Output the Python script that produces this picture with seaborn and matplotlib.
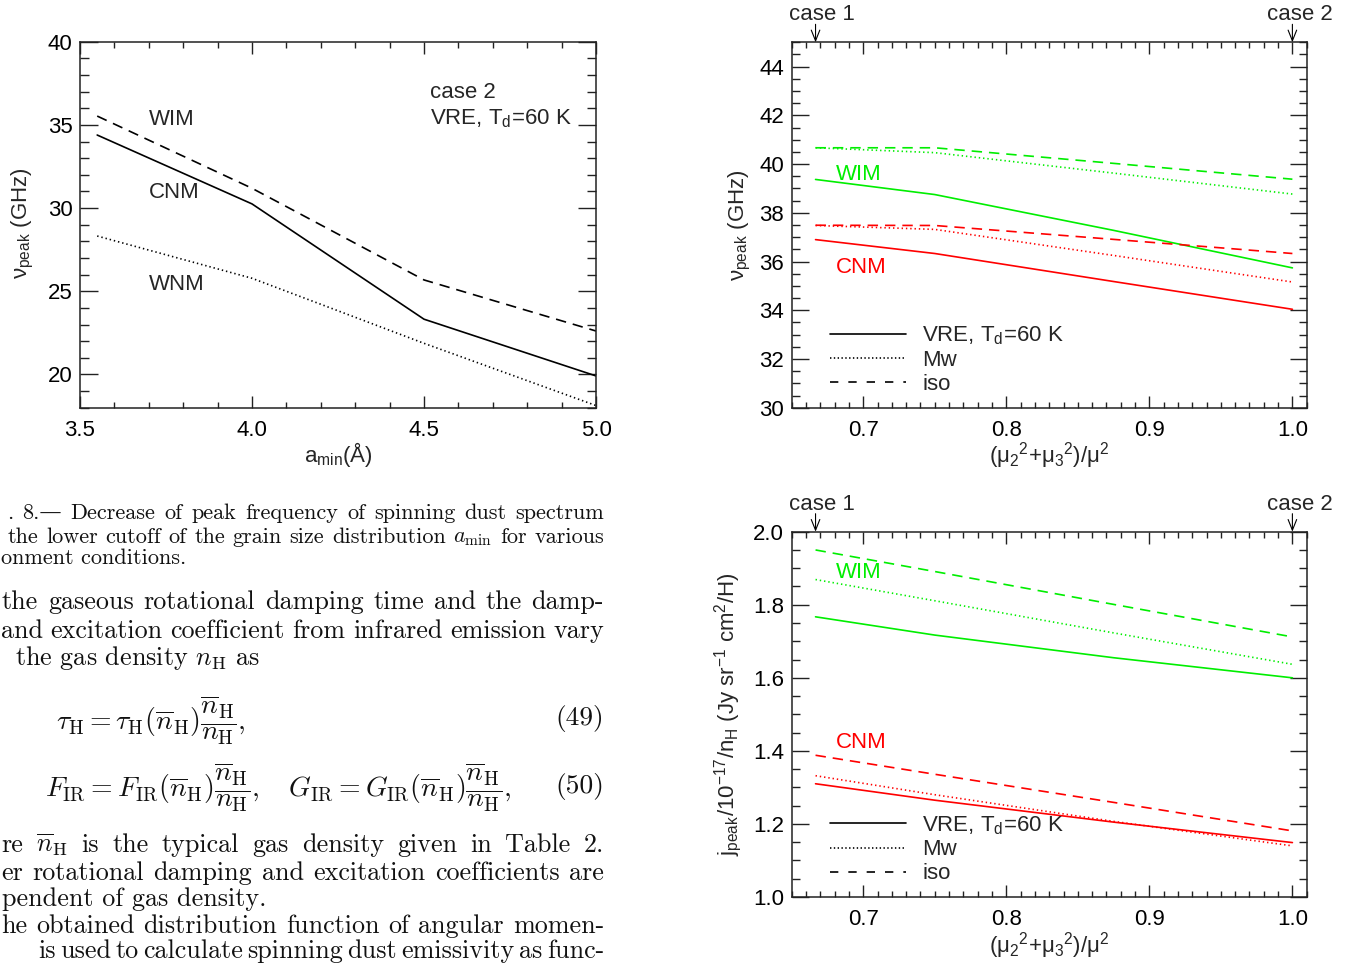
import matplotlib
matplotlib.use("Agg")
import matplotlib.pyplot as plt
import seaborn as sns
import pandas as pd
from matplotlib.ticker import MultipleLocator, FormatStrFormatter
from matplotlib.lines import Line2D

# ---- peak frequency versus lower size cutoff (case 2, VRE, Td = 60 K)
amin = [3.55, 4.0, 4.5, 5.0]
nu_wim_amin = [35.53, 31.19, 25.68, 22.61]
nu_cnm_amin = [34.39, 30.25, 23.32, 19.91]
nu_wnm_amin = [28.32, 25.78, 21.87, 18.13]

# ---- dependence on the dipole orientation (mu2^2 + mu3^2) / mu^2
mu_ratio = [2 / 3, 0.75, 0.875, 1.0]
nu_wim_vre = [39.37, 38.75, 37.28, 35.74]
nu_wim_mw = [40.67, 40.47, 39.63, 38.77]
nu_wim_iso = [40.67, 40.67, 40.03, 39.38]
nu_cnm_vre = [36.90, 36.33, 35.18, 34.04]
nu_cnm_mw = [37.48, 37.32, 36.25, 35.16]
nu_cnm_iso = [37.49, 37.48, 36.91, 36.33]

j_wim_vre = [1.767, 1.717, 1.655, 1.600]
j_wim_mw = [1.869, 1.811, 1.723, 1.637]
j_wim_iso = [1.950, 1.891, 1.801, 1.712]
j_cnm_vre = [1.310, 1.265, 1.205, 1.149]
j_cnm_mw = [1.332, 1.280, 1.207, 1.140]
j_cnm_iso = [1.388, 1.336, 1.259, 1.181]

legend_labels = ["VRE, T$_{\\rm d}$=60 K", "Mw", "iso"]

W, H = 1371, 963
GREEN = "#00ee00"
RED = "#ff0000"
SOLID = "-"
DOTTED = (0, (1.0, 2.1))
DASHED = (0, (7.5, 5.0))

sns.set_theme(style="ticks")
plt.rcParams.update({
    "font.family": ["Liberation Sans", "DejaVu Sans"],
    "mathtext.fontset": "custom",
    "mathtext.rm": "Liberation Sans",
    "mathtext.it": "Liberation Sans:italic",
    "mathtext.bf": "Liberation Sans:bold",
    "mathtext.sf": "Liberation Sans",
    "lines.scale_dashes": False,
    "axes.linewidth": 1.1,
    "axes.edgecolor": "#222222",
    "xtick.color": "#222222",
    "ytick.color": "#222222",
    "xtick.labelcolor": "black",
    "ytick.labelcolor": "black",
    "axes.unicode_minus": True,
})

fig = plt.figure(figsize=(W / 100, H / 100), dpi=100)
fig.patch.set_facecolor("white")


def axes_px(left, top, right, bottom):
    return fig.add_axes([left / W, 1 - bottom / H, (right - left) / W, (bottom - top) / H])


def style_axes(ax, ymaj_len, ymin_len):
    ax.set_facecolor("white")
    for s in ax.spines.values():
        s.set_visible(True)
        s.set_color("#222222")
        s.set_linewidth(1.1)
    ax.tick_params(which="both", direction="in", top=True, right=True,
                   labelsize=16, width=1.0)
    ax.tick_params(axis="x", which="major", length=8.7, pad=8.7)
    ax.tick_params(axis="x", which="minor", length=4.6)
    ax.tick_params(axis="y", which="major", length=ymaj_len, pad=5.5)
    ax.tick_params(axis="y", which="minor", length=ymin_len)
    ax.grid(False)


def draw(ax, x, y, color, ls):
    df = pd.DataFrame({"x": x, "y": y})
    sns.lineplot(data=df, x="x", y="y", color=color, linestyle=ls,
                 linewidth=1.2, errorbar=None, sort=True, ax=ax)


# ================= left panel =================
axL = axes_px(80, 41.7, 596, 407.7)
style_axes(axL, 13, 6.5)
draw(axL, amin, nu_wim_amin, "black", DASHED)
draw(axL, amin, nu_cnm_amin, "black", SOLID)
draw(axL, amin, nu_wnm_amin, "black", DOTTED)
axL.set_xlim(3.5, 5.0)
axL.set_ylim(18, 40)
axL.xaxis.set_major_locator(MultipleLocator(0.5))
axL.xaxis.set_minor_locator(MultipleLocator(0.1))
axL.yaxis.set_major_locator(MultipleLocator(5))
axL.yaxis.set_minor_locator(MultipleLocator(1))
axL.xaxis.set_major_formatter(FormatStrFormatter("%.1f"))
axL.yaxis.set_major_formatter(FormatStrFormatter("%d"))
axL.set_xlabel("a$_{\\rm min}$(Å)", fontsize=16)
axL.set_ylabel("ν$_{\\rm peak}$ (GHz)", fontsize=16)
axL.xaxis.label.set_va("baseline")
axL.xaxis.set_label_coords(0.5, -0.148)
axL.yaxis.label.set_va("baseline")
axL.yaxis.set_label_coords(-0.101, 0.505)
axL.text(3.70, 35.0, "WIM", fontsize=16, va="baseline")
axL.text(3.70, 30.6, "CNM", fontsize=16, va="baseline")
axL.text(3.70, 25.08, "WNM", fontsize=16, va="baseline")
axL.text(4.517, 36.6, "case 2", fontsize=16, va="baseline")
axL.text(4.517, 35.05, "VRE, T$_{\\rm d}$=60 K", fontsize=16, va="baseline")


# ================= right panels =================
def right_panel(top, bottom, series, ylim, ymaj, ymin, yfmt, ylabel, ylab_x,
                wim_y, cnm_y):
    ax = axes_px(791.7, top, 1306.7, bottom)
    style_axes(ax, 12.3, 6)
    for y, color, ls in series:
        draw(ax, mu_ratio, y, color, ls)
    ax.set_xlim(0.65, 1.01)
    ax.set_ylim(*ylim)
    ax.xaxis.set_major_locator(MultipleLocator(0.1))
    ax.xaxis.set_minor_locator(MultipleLocator(0.01))
    ax.yaxis.set_major_locator(MultipleLocator(ymaj))
    ax.yaxis.set_minor_locator(MultipleLocator(ymin))
    ax.xaxis.set_major_formatter(FormatStrFormatter("%.1f"))
    ax.yaxis.set_major_formatter(FormatStrFormatter(yfmt))
    ax.set_xlabel("(μ$_2$$^2$+μ$_3$$^2$)/μ$^2$", fontsize=16)
    ax.set_ylabel(ylabel, fontsize=16)
    ax.xaxis.label.set_va("baseline")
    ax.xaxis.set_label_coords(0.5, -0.151)
    ax.yaxis.label.set_va("baseline")
    ax.yaxis.set_label_coords(ylab_x, 0.5)
    ax.text(0.681, wim_y, "WIM", color=GREEN, fontsize=16, va="baseline")
    ax.text(0.681, cnm_y, "CNM", color=RED, fontsize=16, va="baseline")
    # marked orientations
    for xv, name, dx in [(mu_ratio[0], "case 1", 6), (mu_ratio[-1], "case 2", 7)]:
        ax.annotate("", xy=(xv, 1.0), xycoords=("data", "axes fraction"),
                    xytext=(0, 18), textcoords="offset pixels",
                    arrowprops=dict(arrowstyle="->,head_length=0.55,head_width=0.22",
                                    lw=0.8, color="black", shrinkA=0, shrinkB=0,
                                    mutation_scale=14))
        ax.annotate(name, xy=(xv, 1.0), xycoords=("data", "axes fraction"),
                    xytext=(dx, 22), textcoords="offset pixels",
                    ha="center", va="baseline", fontsize=16)
    handles = [
        Line2D([], [], color="black", lw=1.2, ls=SOLID),
        Line2D([], [], color="black", lw=1.2, ls=(0, (1.0, 1.75))),
        Line2D([], [], color="black", lw=1.2, ls=(0, (6.0, 7.2))),
    ]
    ax.legend(handles, legend_labels, loc="center left",
              bbox_to_anchor=(0.0744, 0.131), frameon=False, fontsize=16,
              handlelength=3.42, handletextpad=0.72, labelspacing=0.13,
              borderpad=0, borderaxespad=0)
    return ax


right_panel(42.3, 407.7,
            [(nu_wim_iso, GREEN, DASHED), (nu_wim_mw, GREEN, DOTTED),
             (nu_wim_vre, GREEN, SOLID), (nu_cnm_iso, RED, DASHED),
             (nu_cnm_mw, RED, DOTTED), (nu_cnm_vre, RED, SOLID)],
            (30, 45), 2, 0.5, "%d", "ν$_{\\rm peak}$ (GHz)", -0.091,
            39.35, 35.53)

right_panel(531.7, 897.0,
            [(j_wim_iso, GREEN, DASHED), (j_wim_mw, GREEN, DOTTED),
             (j_wim_vre, GREEN, SOLID), (j_cnm_iso, RED, DASHED),
             (j_cnm_mw, RED, DOTTED), (j_cnm_vre, RED, SOLID)],
            (1.0, 2.0), 0.2, 0.05, "%.1f",
            "j$_{\\rm peak}$/10$^{-17}$/n$_{\\rm H}$ (Jy sr$^{-1}$ cm$^2$/H)", -0.112,
            1.872, 1.407)


# ================= surrounding article text =================
SERIF = ["cmr10", "DejaVu Serif"]
INK = "#111111"
CAP = 16.0
BODY = 18.8
EQ = 20
RIGHT = 604
renderer = fig.canvas.get_renderer()


def word(x, y, s, size, ha="left"):
    return fig.text(x / W, 1 - y / H, s, fontsize=size, ha=ha, va="baseline",
                    family=SERIF, math_fontfamily="cm", color=INK)


def line(x, y, s, size):
    word(x, y, s, size)


def justified(x0, y, s, size, x1=RIGHT):
    # spread the words of one line evenly between x0 and x1
    # (math inside a word must not contain spaces)
    words = s.split(" ")
    texts = [word(0, y, w, size) for w in words]
    widths = [t.get_window_extent(renderer).width for t in texts]
    gap = (x1 - x0 - sum(widths)) / (len(words) - 1)
    x = x0
    for t, w in zip(texts, widths):
        t.set_x(x / W)
        x += w + gap


justified(7, 519, ". 8.— Decrease of peak frequency of spinning dust spectrum", CAP)
justified(8, 542.7, "the lower cutoff of the grain size distribution $a_\\mathrm{min}$ for various", CAP)
line(1, 564, "onment conditions.", CAP)

justified(2, 609, "the gaseous rotational damping time and the damp-", BODY)
justified(1, 637.6, "and excitation coefficient from infrared emission vary", BODY)
line(15, 665, "the gas density $n_\\mathrm{H}$ as", BODY)

fig.text(56 / W, 1 - 720 / H,
         r"$\tau_{\rm H} = \tau_{\rm H}(\overline{n}_{\rm H})\dfrac{\overline{n}_{\rm H}}{n_{\rm H}},$",
         fontsize=EQ, ha="left", va="center", math_fontfamily="cm", color=INK)
word(RIGHT, 725, "(49)", BODY + 1, ha="right")
fig.text(45 / W, 1 - 787 / H,
         r"$F_{\rm IR} = F_{\rm IR}(\overline{n}_{\rm H})\dfrac{\overline{n}_{\rm H}}{n_{\rm H}},"
         r"\quad G_{\rm IR} = G_{\rm IR}(\overline{n}_{\rm H})\dfrac{\overline{n}_{\rm H}}{n_{\rm H}},$",
         fontsize=EQ, ha="left", va="center", math_fontfamily="cm", color=INK)
word(RIGHT, 793, "(50)", BODY + 1, ha="right")

justified(1, 852, "re $\\overline{n}_\\mathrm{H}$ is the typical gas density given in Table 2.", BODY)
justified(1, 880, "er rotational damping and excitation coefficients are", BODY)
line(2, 906, "pendent of gas density.", BODY)
justified(1, 933, "he obtained distribution function of angular momen-", BODY)
justified(38, 958, "is used to calculate spinning dust emissivity as func-", BODY)

fig.savefig("out.png", dpi=100, facecolor="white")
